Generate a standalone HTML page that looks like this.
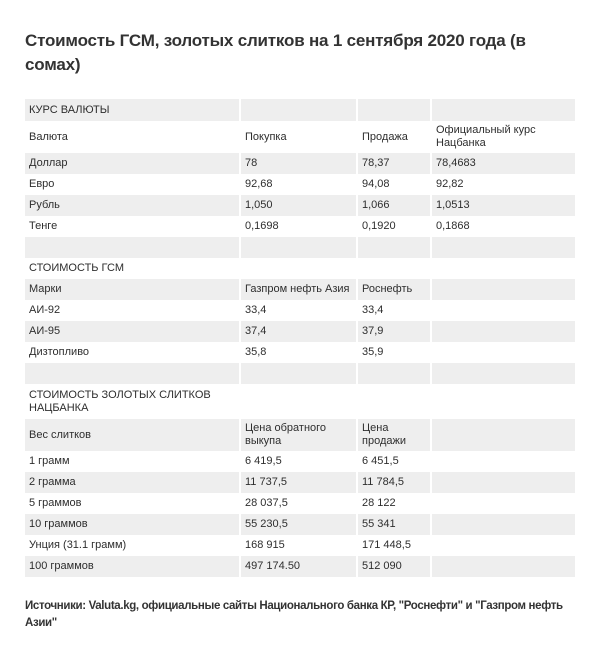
<!DOCTYPE html>
<html><head><meta charset="utf-8"><style>
body{margin:0;background:#fff;width:600px;height:656px;position:relative;font-family:"Liberation Sans","DejaVu Sans",sans-serif;color:#333;}
h1{position:absolute;left:25px;top:29px;margin:0;font-size:17px;line-height:24px;font-weight:bold;width:560px;color:#333;letter-spacing:-0.2px;}
table{position:absolute;left:23px;top:99px;width:554px;border-collapse:separate;border-spacing:2px 0;table-layout:fixed;font-size:11px;}
td{padding:0 4px;height:21px;line-height:13px;vertical-align:middle;overflow:hidden;color:#2e2e2e;}
tr.s td{background:#eeeeee;}
.foot{position:absolute;left:25px;top:598px;width:560px;font-size:11.5px;line-height:17px;font-weight:bold;color:#333;letter-spacing:-0.35px;}
</style></head><body>
<h1>Стоимость ГСМ, золотых слитков на 1 сентября 2020 года (в сомах)</h1>
<table>
<colgroup><col style="width:214px"><col style="width:115px"><col style="width:72px"><col style="width:143px"></colgroup>
<tr class="s"><td style="height:22px">КУРС ВАЛЮТЫ</td><td></td><td></td><td></td></tr>
<tr><td style="height:32px">Валюта</td><td>Покупка</td><td>Продажа</td><td>Официальный курс Нацбанка</td></tr>
<tr class="s"><td>Доллар</td><td>78</td><td>78,37</td><td>78,4683</td></tr>
<tr><td>Евро</td><td>92,68</td><td>94,08</td><td>92,82</td></tr>
<tr class="s"><td>Рубль</td><td>1,050</td><td>1,066</td><td>1,0513</td></tr>
<tr><td>Тенге</td><td>0,1698</td><td>0,1920</td><td>0,1868</td></tr>
<tr class="s"><td></td><td></td><td></td><td></td></tr>
<tr><td>СТОИМОСТЬ ГСМ</td><td></td><td></td><td></td></tr>
<tr class="s"><td>Марки</td><td>Газпром нефть Азия</td><td>Роснефть</td><td></td></tr>
<tr><td>АИ-92</td><td>33,4</td><td>33,4</td><td></td></tr>
<tr class="s"><td>АИ-95</td><td>37,4</td><td>37,9</td><td></td></tr>
<tr><td style="height:20px">Дизтопливо</td><td>35,8</td><td>35,9</td><td></td></tr>
<tr class="s"><td></td><td></td><td></td><td></td></tr>
<tr><td style="height:35px">СТОИМОСТЬ ЗОЛОТЫХ СЛИТКОВ<br>НАЦБАНКА</td><td></td><td></td><td></td></tr>
<tr class="s"><td style="height:32px">Вес слитков</td><td>Цена обратного выкупа</td><td>Цена продажи</td><td></td></tr>
<tr><td style="height:20px">1 грамм</td><td>6 419,5</td><td>6 451,5</td><td></td></tr>
<tr class="s"><td>2 грамма</td><td>11 737,5</td><td>11 784,5</td><td></td></tr>
<tr><td>5 граммов</td><td>28 037,5</td><td>28 122</td><td></td></tr>
<tr class="s"><td>10 граммов</td><td>55 230,5</td><td>55 341</td><td></td></tr>
<tr><td>Унция (31.1 грамм)</td><td>168 915</td><td>171 448,5</td><td></td></tr>
<tr class="s"><td>100 граммов</td><td>497 174.50</td><td>512 090</td><td></td></tr>
</table>
<div class="foot">Источники: Valuta.kg, официальные сайты Национального банка КР, "Роснефти" и "Газпром нефть Азии"</div>
</body></html>
